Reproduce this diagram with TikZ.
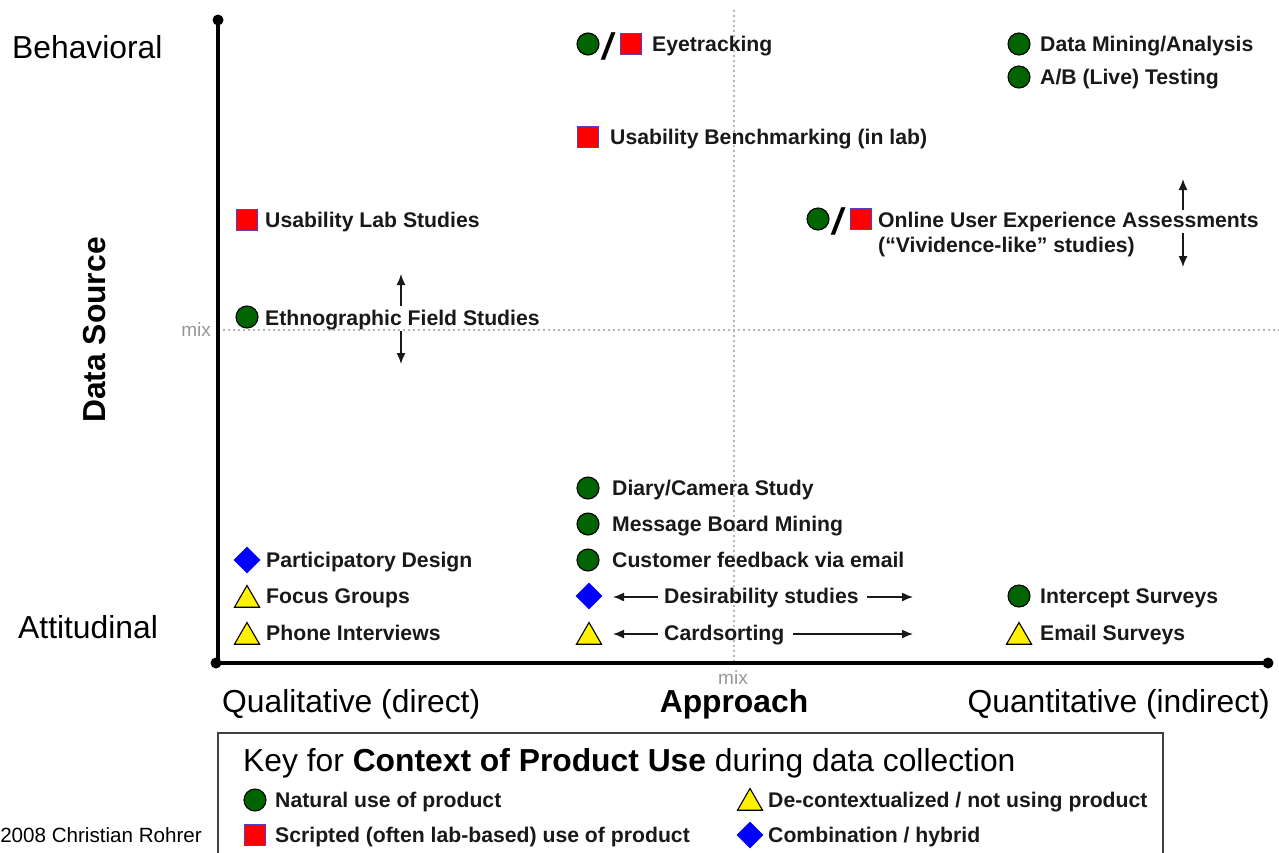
\documentclass[tikz,border=0pt]{standalone}
\usepackage{fontspec}
\setmainfont{Liberation Sans}
\usetikzlibrary{shapes.geometric,arrows.meta}
\definecolor{dgreen}{RGB}{0,100,0}
\definecolor{sqb}{RGB}{90,60,190}
\definecolor{txt}{RGB}{25,25,25}
\definecolor{mixg}{RGB}{150,150,150}
\begin{document}
\begin{tikzpicture}[x=1pt,y=-1pt,
  lbl/.style={anchor=base west,inner sep=0,font=\fontsize{21.2}{25}\selectfont\bfseries,text=txt},
  big/.style={inner sep=0,font=\fontsize{31.8}{36}\selectfont,text=black},
  slashtxt/.style={inner sep=0,font=\fontsize{37}{40}\selectfont\bfseries\itshape,text=black},
  mixlbl/.style={inner sep=0,font=\fontsize{19}{22}\selectfont,text=mixg},
  gc/.style={circle,draw=black,line width=1.1pt,fill=dgreen,minimum size=22,inner sep=0},
  rs/.style={rectangle,draw=sqb,line width=1.1pt,fill=red,minimum size=21,inner sep=0},
  bd/.style={diamond,fill=blue,minimum size=27,inner sep=0},
  yt/.style={regular polygon,regular polygon sides=3,draw=black,line width=1.1pt,fill=yellow,minimum size=29,inner sep=0},
  arr/.style={-{Latex[length=11pt,width=9pt]},line width=1.4pt,draw=txt},
  axis/.style={line width=3.2pt,draw=black},
  guide/.style={draw=mixg!70,line width=1.3pt,dash pattern=on 1.5pt off 3.5pt}]
\useasboundingbox (0,0) rectangle (1279,852);

% guides
\coordinate (gvt) at (734,10);
\coordinate (gvb) at (734,663);
\coordinate (ghl) at (218,330);
\coordinate (ghr) at (1279,330);
\draw[guide] (gvt) -- (gvb);
\draw[guide] (ghl) -- (ghr);

% axes
\coordinate (atop) at (218,20);
\coordinate (aorg) at (218,663);
\coordinate (aright) at (1268,663);
\draw[axis] (atop) -- (aorg) -- (aright);
\fill (atop) circle (5.5);
\fill (216,663) circle (5.5);
\fill (aright) circle (5.5);

% mix labels
\node[mixlbl,anchor=base east] (mixv) at (211,336) {mix};
\node[mixlbl,anchor=base] (mixh) at (733,684) {mix};

% axis labels
\node[big,anchor=base west] (beh) at (12,58) {Behavioral};
\node[big,anchor=base west] (att) at (18,638) {Attitudinal};
\node[big,font=\fontsize{31.8}{36}\selectfont\bfseries,rotate=90] (dsrc) at (95,330) {Data Source};
\node[big,anchor=base west] (qual) at (222,712) {Qualitative (direct)};
\node[big,font=\fontsize{31.8}{36}\selectfont\bfseries,anchor=base] (appr) at (734,712) {Approach};
\node[big,anchor=base east] (quan) at (1270,712) {Quantitative (indirect)};

% Eyetracking
\node[gc] (eyeg) at (588,44) {};
\node[slashtxt] (eyes) at (608,46) {/};
\node[rs] (eyer) at (631,44) {};
\node[lbl] (eye) at (652,51.5) {Eyetracking};

% Data mining, A/B
\node[gc] (dmg) at (1019,44) {};
\node[lbl] (dm) at (1040,51.5) {Data Mining/Analysis};
\node[gc] (abg) at (1019,77) {};
\node[lbl] (ab) at (1040,84.5) {A/B (Live) Testing};

% Benchmarking
\node[rs] (ubr) at (588,137) {};
\node[lbl] (ub) at (610,144.5) {Usability Benchmarking (in lab)};

% Usability Lab Studies
\node[rs] (ulr) at (247,220) {};
\node[lbl] (ul) at (265,227.5) {Usability Lab Studies};

% Online UX
\node[gc] (oug) at (818,219) {};
\node[slashtxt] (ous) at (838,221) {/};
\node[rs] (our) at (861,219) {};
\node[lbl] (ou) at (878,227) {Online User Experience Assessments};
\node[lbl] (ou2) at (878,252) {(“Vividence-like” studies)};
\coordinate (oua1) at (1183,210);
\coordinate (oua2) at (1183,179);
\coordinate (oub1) at (1183,233);
\coordinate (oub2) at (1183,267);
\draw[arr] (oua1) -- (oua2);
\draw[arr] (oub1) -- (oub2);

% Ethnographic
\node[gc] (etg) at (247,317) {};
\node[lbl] (et) at (265,325) {Ethnographic Field Studies};
\coordinate (eta1) at (401,306);
\coordinate (eta2) at (401,274);
\coordinate (etb1) at (401,331);
\coordinate (etb2) at (401,364);
\draw[arr] (eta1) -- (eta2);
\draw[arr] (etb1) -- (etb2);

% middle bottom
\node[gc] (dcg) at (588,488) {};
\node[lbl] (dc) at (612,495.5) {Diary/Camera Study};
\node[gc] (mbg) at (588,524) {};
\node[lbl] (mb) at (612,531.5) {Message Board Mining};
\node[gc] (cfg) at (588,560) {};
\node[lbl] (cf) at (612,567.5) {Customer feedback via email};
\node[bd] (dsd) at (589,596) {};
\node[lbl] (ds) at (664,603.5) {Desirability studies};
\coordinate (dsa1) at (658,597);
\coordinate (dsa2) at (613,597);
\coordinate (dsb1) at (867,597);
\coordinate (dsb2) at (913,597);
\draw[arr] (dsa1) -- (dsa2);
\draw[arr] (dsb1) -- (dsb2);
\node[yt] (cst) at (589,637) {};
\node[lbl] (cs) at (664,640.5) {Cardsorting};
\coordinate (csa1) at (658,634);
\coordinate (csa2) at (613,634);
\coordinate (csb1) at (793,634);
\coordinate (csb2) at (913,634);
\draw[arr] (csa1) -- (csa2);
\draw[arr] (csb1) -- (csb2);

% right bottom
\node[gc] (isg) at (1019,596) {};
\node[lbl] (is) at (1040,603.5) {Intercept Surveys};
\node[yt] (est) at (1019,637) {};
\node[lbl] (es) at (1040,640.5) {Email Surveys};

% left bottom
\node[bd] (pdd) at (247,560) {};
\node[lbl] (pd) at (266,567.5) {Participatory Design};
\node[yt] (fgt) at (247,600) {};
\node[lbl] (fg) at (266,603.5) {Focus Groups};
\node[yt] (pit) at (247,637) {};
\node[lbl] (pi) at (266,640.5) {Phone Interviews};

% key
\coordinate (k1) at (218,733);
\coordinate (k2) at (1163,880);
\draw[line width=1.5pt,draw=black!75] (k1) rectangle (k2);
\node[big,anchor=base west] (ktitle) at (243,771) {Key for \textbf{Context of Product Use} during data collection};
\node[gc] (kg) at (255,800) {};
\node[lbl] (kgt) at (275,807.5) {Natural use of product};
\node[rs] (kr) at (255,835) {};
\node[lbl] (krt) at (275,842.5) {Scripted (often lab-based) use of product};
\node[yt] (ky) at (750,803) {};
\node[lbl] (kyt) at (768,807.5) {De-contextualized / not using product};
\node[bd] (kb) at (750,835) {};
\node[lbl] (kbt) at (768,842.5) {Combination / hybrid};

% copyright
\node[inner sep=0,anchor=base east,font=\fontsize{20.6}{24}\selectfont] (copy) at (202,842) {2008 Christian Rohrer};
\end{tikzpicture}
\end{document}
